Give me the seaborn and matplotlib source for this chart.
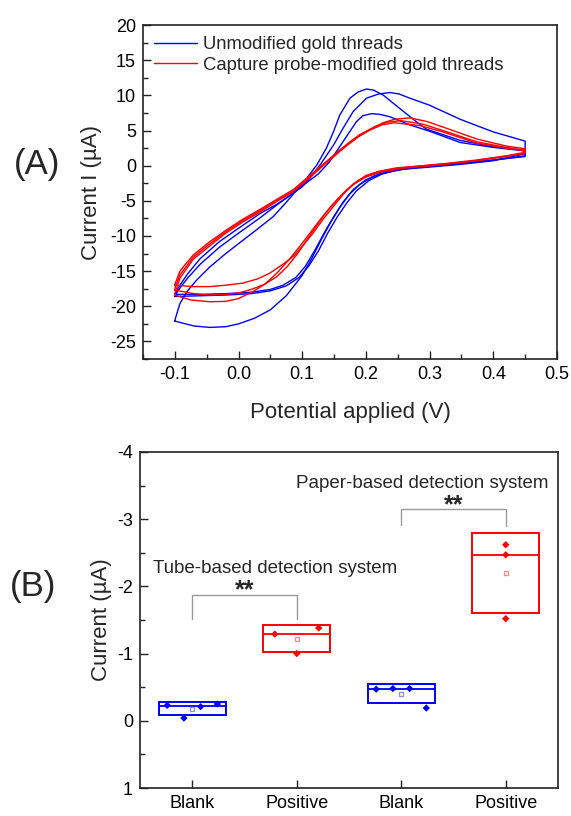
import numpy as np
import pandas as pd
import matplotlib
matplotlib.use("Agg")
import matplotlib.pyplot as plt
import seaborn as sns
from matplotlib.ticker import MultipleLocator, FormatStrFormatter

# ---------------------------------------------------------------
# (A) cyclic voltammograms
#     each cycle: forward (lower) branch then return (upper) branch
# ---------------------------------------------------------------
LABEL_BLUE = "Unmodified gold threads"
LABEL_RED = "Capture probe-modified gold threads"

b1_v = [-0.100, -0.070, -0.045, -0.020, 0.000, 0.025, 0.050, 0.075, 0.100, 0.115, 0.130, 0.145,
        0.160, 0.175, 0.190, 0.210, 0.230, 0.260, 0.300, 0.350, 0.400, 0.450,
        0.447, 0.400, 0.348, 0.295, 0.280, 0.253, 0.227, 0.212, 0.201, 0.188, 0.175, 0.159,
        0.149, 0.138, 0.123, 0.107, 0.096, 0.075, 0.055, 0.030, 0.007, -0.020, -0.045,
        -0.065, -0.080, -0.092, -0.100]
b1_i = [-22.1, -22.8, -23.0, -22.9, -22.5, -21.7, -20.5, -18.5, -15.6, -13.2, -10.5, -8.0,
        -5.8, -4.0, -2.7, -1.6, -1.0, -0.5, -0.2, 0.2, 0.7, 1.7,
        2.2, 2.7, 3.6, 5.2, 6.2, 8.15, 10.05, 10.75, 10.9, 10.5, 9.6, 7.2,
        4.8, 2.5, 0.1, -1.8, -3.0, -5.2, -7.2, -9.0, -10.6, -12.5, -14.4,
        -16.2, -17.8, -19.6, -22.0]

b2_v = [-0.100, -0.060, -0.020, 0.020, 0.050, 0.070, 0.090, 0.105, 0.120, 0.138, 0.150, 0.164,
        0.180, 0.200, 0.220, 0.245, 0.280, 0.320, 0.360, 0.400, 0.450,
        0.450, 0.400, 0.348, 0.300, 0.269, 0.252, 0.238, 0.220, 0.201, 0.180, 0.164, 0.149,
        0.128, 0.112, 0.100, 0.080, 0.060, 0.034, 0.000, -0.030, -0.060, -0.080, -0.092, -0.100]
b2_i = [-18.3, -18.3, -18.2, -18.0, -17.6, -17.0, -15.9, -14.3, -12.0, -9.0, -7.2, -5.2,
        -3.4, -2.0, -1.2, -0.6, -0.2, 0.1, 0.4, 0.8, 1.4,
        3.5, 4.8, 6.6, 8.6, 9.6, 10.2, 10.4, 10.2, 9.6, 7.7, 5.3, 2.9,
        0.1, -1.8, -3.0, -4.3, -5.5, -6.8, -8.9, -10.8, -13.2, -15.4, -17.0, -18.2]

b3_v = [-0.100, -0.060, -0.020, 0.020, 0.050, 0.075, 0.095, 0.110, 0.125, 0.140, 0.155, 0.170,
        0.185, 0.205, 0.225, 0.250, 0.285, 0.320, 0.360, 0.400, 0.450,
        0.450, 0.400, 0.348, 0.300, 0.269, 0.238, 0.222, 0.209, 0.195, 0.185, 0.164, 0.143,
        0.125, 0.110, 0.090, 0.060, 0.034, 0.000, -0.030, -0.060, -0.080, -0.092, -0.100]
b3_i = [-18.6, -18.5, -18.4, -18.2, -17.8, -17.1, -15.9, -14.3, -12.2, -9.6, -7.3, -5.3,
        -3.6, -2.1, -1.2, -0.6, -0.2, 0.1, 0.4, 0.8, 1.3,
        2.1, 2.6, 3.3, 4.9, 5.8, 6.95, 7.3, 7.4, 7.1, 6.25, 3.4, 0.55,
        -1.2, -2.2, -3.6, -5.6, -7.4, -9.6, -11.6, -14.0, -16.0, -17.4, -18.5]

r1_v = [-0.100, -0.070, -0.045, -0.020, 0.007, 0.030, 0.049, 0.070, 0.086, 0.100, 0.117, 0.133,
        0.149, 0.165, 0.180, 0.200, 0.220, 0.250, 0.290, 0.330, 0.374, 0.420, 0.450,
        0.450, 0.420, 0.374, 0.321, 0.295, 0.269, 0.245, 0.227, 0.205, 0.190, 0.175, 0.160,
        0.138, 0.112, 0.086, 0.060, 0.034, 0.007, -0.020, -0.045, -0.071, -0.085, -0.092,
        -0.100]
r1_i = [-17.0, -17.2, -17.2, -17.0, -16.7, -16.1, -15.3, -14.0, -12.9, -11.5, -9.6, -7.6,
        -5.8, -4.0, -2.6, -1.4, -0.8, -0.3, 0.0, 0.35, 0.8, 1.4, 1.9,
        2.4, 2.8, 3.8, 5.5, 6.3, 6.8, 6.6, 6.1, 5.1, 4.4, 3.4, 2.3,
        0.6, -1.4, -3.4, -4.8, -6.2, -7.6, -9.2, -10.8, -12.7, -14.2, -15.0,
        -16.9]

r2_v = [-0.100, -0.070, -0.045, -0.020, 0.000, 0.020, 0.040, 0.060, 0.076, 0.092, 0.107, 0.122,
        0.138, 0.154, 0.170, 0.190, 0.215, 0.245, 0.290, 0.330, 0.374, 0.420, 0.450,
        0.450, 0.420, 0.374, 0.321, 0.290, 0.255, 0.235, 0.215, 0.190, 0.175, 0.160, 0.138,
        0.112, 0.086, 0.060, 0.034, 0.007, -0.020, -0.045, -0.071, -0.085, -0.092, -0.100]
r2_i = [-17.7, -18.2, -18.4, -18.3, -18.1, -17.6, -16.9, -15.8, -14.4, -12.6, -10.6, -8.6,
        -6.6, -4.9, -3.4, -2.0, -1.0, -0.4, 0.0, 0.3, 0.75, 1.35, 1.8,
        2.2, 2.6, 3.4, 5.0, 5.9, 6.4, 6.2, 5.6, 4.3, 3.3, 2.2, 0.5,
        -1.5, -3.6, -5.0, -6.4, -7.8, -9.4, -11.1, -13.0, -14.7, -15.5, -17.5]

r3_v = [-0.100, -0.075, -0.045, -0.020, 0.000, 0.023, 0.042, 0.060, 0.078, 0.096, 0.112, 0.128,
        0.146, 0.164, 0.180, 0.200, 0.225, 0.255, 0.290, 0.330, 0.374, 0.420, 0.450,
        0.450, 0.420, 0.374, 0.321, 0.285, 0.245, 0.225, 0.205, 0.190, 0.175, 0.160, 0.138,
        0.112, 0.086, 0.060, 0.034, 0.007, -0.020, -0.045, -0.071, -0.085, -0.092, -0.100]
r3_i = [-18.4, -19.1, -19.35, -19.3, -18.9, -17.9, -16.8, -15.3, -13.5, -11.5, -9.6, -7.7,
        -5.7, -4.0, -2.7, -1.6, -0.9, -0.4, -0.1, 0.25, 0.7, 1.3, 1.75,
        2.1, 2.5, 3.2, 4.8, 5.7, 6.1, 5.8, 5.0, 4.2, 3.2, 2.1, 0.4,
        -1.7, -3.7, -5.1, -6.6, -8.0, -9.6, -11.4, -13.3, -15.1, -16.0, -18.2]

# ---------------------------------------------------------------
# (B) peak currents (uA), one list per group
# ---------------------------------------------------------------
group_labels = ["Blank", "Positive", "Blank", "Positive"]
blank_tube = [-0.23, -0.04, -0.21, -0.25]
positive_tube = [-1.29, -1.00, -1.38]
blank_paper = [-0.47, -0.48, -0.48, -0.19]
positive_paper = [-2.62, -2.47, -1.52]

BLUE = "#0000FF"
RED = "#FF0000"

sns.set_theme(style="ticks")
plt.rcParams["font.family"] = ["Liberation Sans", "DejaVu Sans"]
plt.rcParams["axes.unicode_minus"] = False

fig = plt.figure(figsize=(5.71, 8.16), dpi=100)
ax1 = fig.add_axes([0.2504, 0.5600, 0.7250, 0.4093])
ax2 = fig.add_axes([0.2452, 0.0343, 0.7320, 0.4118])

# ---- panel A ----
cycles = [
    ("b1", LABEL_BLUE, b1_v, b1_i), ("b2", LABEL_BLUE, b2_v, b2_i), ("b3", LABEL_BLUE, b3_v, b3_i),
    ("r1", LABEL_RED, r1_v, r1_i), ("r2", LABEL_RED, r2_v, r2_i), ("r3", LABEL_RED, r3_v, r3_i),
]
frames = []
for cid, sample, v, i in cycles:
    v = list(v) + [v[0]]          # close the loop
    i = list(i) + [i[0]]
    frames.append(pd.DataFrame({"potential": v, "current": i,
                                "sample": sample, "cycle": cid}))
cv = pd.concat(frames, ignore_index=True)

sns.lineplot(data=cv, x="potential", y="current", hue="sample", units="cycle",
             estimator=None, sort=False, hue_order=[LABEL_BLUE, LABEL_RED],
             palette={LABEL_BLUE: BLUE, LABEL_RED: RED}, lw=1.0, ax=ax1)

ax1.set_xlim(-0.15, 0.5)
ax1.set_ylim(-27.5, 20)
ax1.xaxis.set_major_locator(MultipleLocator(0.1))
ax1.xaxis.set_minor_locator(MultipleLocator(0.05))
ax1.xaxis.set_major_formatter(FormatStrFormatter("%.1f"))
ax1.yaxis.set_major_locator(MultipleLocator(5))
ax1.yaxis.set_minor_locator(MultipleLocator(2.5))
ax1.set_xlabel("Potential applied (V)", fontsize=16, labelpad=14)
ax1.set_ylabel("Current I (µA)", fontsize=16, labelpad=6)
ax1.legend(loc="upper left", frameon=False, fontsize=13.3, handlelength=2.3,
           handletextpad=0.35, labelspacing=0.2, borderaxespad=0.3, borderpad=0.3)

# ---- panel B ----
groups = [blank_tube, positive_tube, blank_paper, positive_paper]
colors = [BLUE, RED, BLUE, RED]
light = ["#8C8CFF", "#FF8C8C", "#8C8CFF", "#FF8C8C"]
offsets = [[-0.24, -0.08, 0.08, 0.24], [-0.21, 0.0, 0.21],
           [-0.24, -0.08, 0.08, 0.24], [0.0, 0.0, 0.0]]
box_w = 0.645

pts = []
for k, vals in enumerate(groups):
    vals = np.array(vals)
    mean, sd, med = vals.mean(), vals.std(ddof=1), np.median(vals)
    # box = mean +/- SD, line = median, open square = mean
    ax2.bar(k, 2 * sd, bottom=mean - sd, width=box_w, fill=False,
            edgecolor=colors[k], linewidth=1.4, zorder=2)
    ax2.plot([k - box_w / 2, k + box_w / 2], [med, med], color=colors[k], lw=1.3, zorder=2)
    ax2.plot(k, mean, marker="s", ms=3.5, mfc="white", mec=light[k], mew=0.9, zorder=3)
    for off, val in zip(offsets[k], vals):
        pts.append({"x": k + off, "current": val, "color": colors[k]})
pts = pd.DataFrame(pts)
sns.scatterplot(data=pts, x="x", y="current", hue="color", palette={BLUE: BLUE, RED: RED},
                marker="D", s=14, edgecolor="none", legend=False, zorder=4, ax=ax2)

ax2.set_xlim(-0.5, 3.5)
ax2.set_ylim(1, -4)
ax2.set_xticks(range(4))
ax2.set_xticklabels(group_labels)
ax2.yaxis.set_major_locator(MultipleLocator(1))
ax2.yaxis.set_minor_locator(MultipleLocator(0.5))
ax2.yaxis.set_major_formatter(FormatStrFormatter("%d"))
ax2.set_xlabel("")
ax2.set_ylabel("Current (µA)", fontsize=16, labelpad=4)

grey = "#9A9A9A"
ax2.plot([0, 0, 1, 1], [-1.51, -1.87, -1.87, -1.52], color=grey, lw=1.0)
ax2.plot([2, 2, 3, 3], [-2.91, -3.15, -3.15, -2.90], color=grey, lw=1.0)
ax2.text(0.5, -1.84, "**", ha="center", va="baseline", fontsize=18, fontweight="bold")
ax2.text(2.5, -3.10, "**", ha="center", va="baseline", fontsize=18, fontweight="bold")
ax2.text(0.79, -2.27, "Tube-based detection system", ha="center", va="center", fontsize=13.5)
ax2.text(2.2, -3.53, "Paper-based detection system", ha="center", va="center", fontsize=13.5)

for ax in (ax1, ax2):
    for s in ax.spines.values():
        s.set_visible(True)
        s.set_linewidth(1.2)
        s.set_color("#222222")
    ax.tick_params(which="major", direction="in", length=6, width=1.0, labelsize=13,
                   colors="#222222", labelcolor="black", pad=5)
    ax.tick_params(which="minor", direction="in", length=3.5, width=1.0, colors="#222222")
ax2.tick_params(axis="x", which="minor", bottom=False)

fig.text(0.065, 0.798, "(A)", fontsize=25, ha="center", va="center")
fig.text(0.058, 0.281, "(B)", fontsize=25, ha="center", va="center")

fig.savefig("out.png", dpi=100)
